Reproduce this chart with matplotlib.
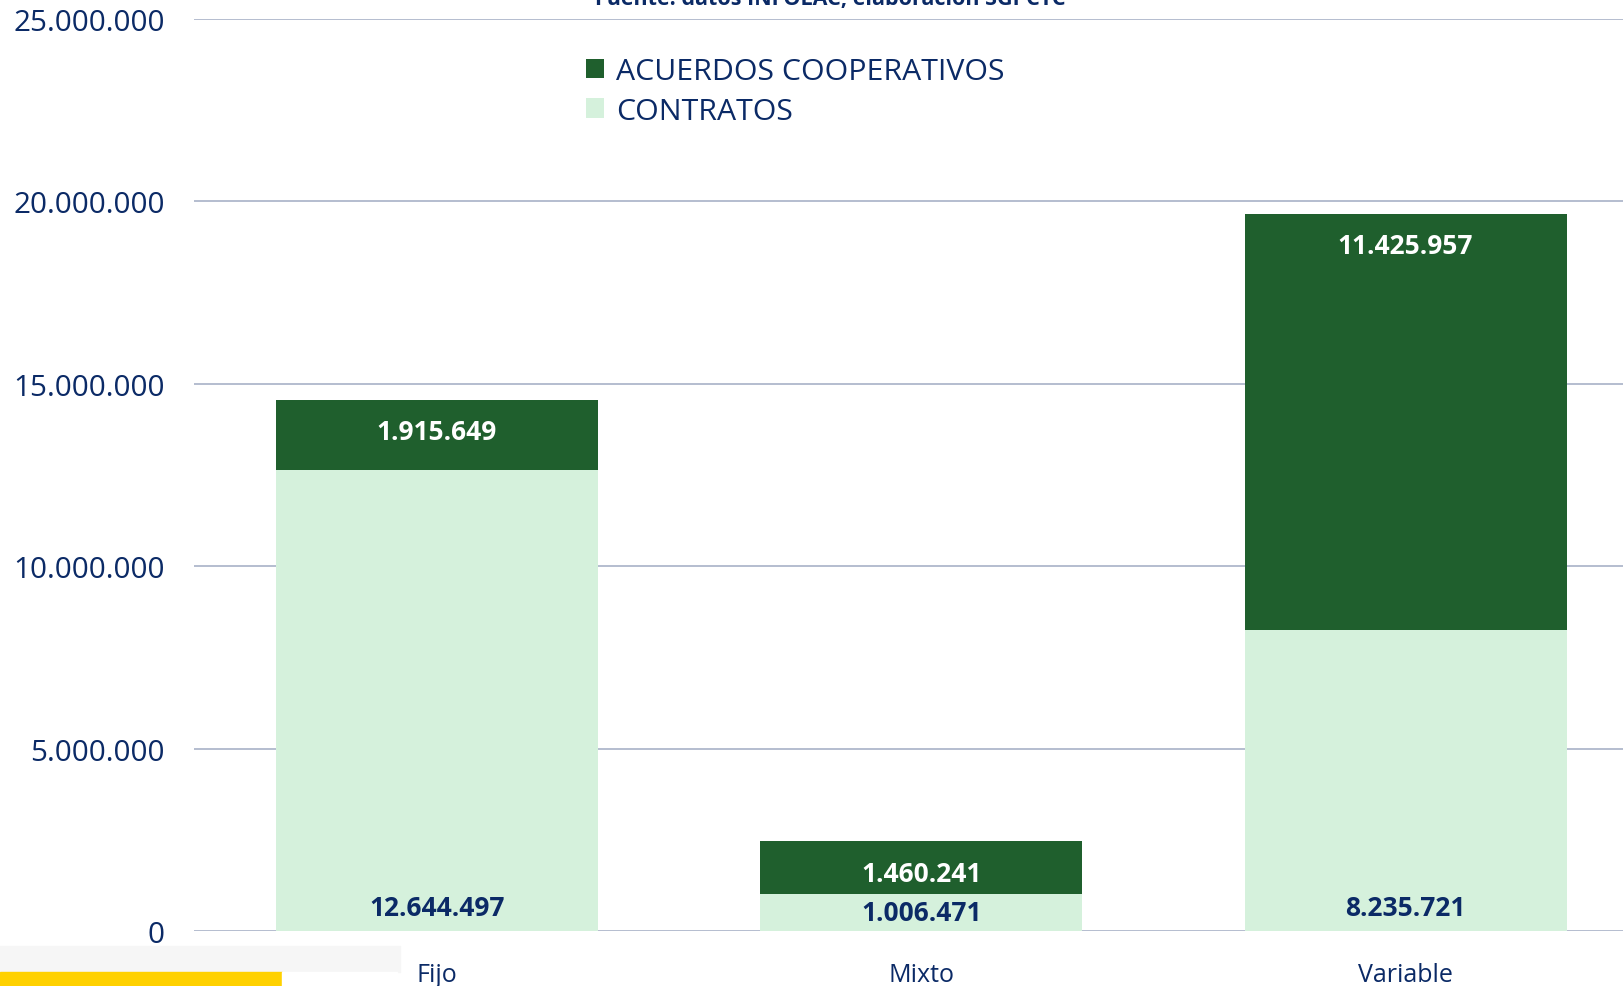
import matplotlib.pyplot as plt
import matplotlib.patches as mpatches
import numpy as np

categorias = ["Fijo", "Mixto", "Variable"]
contratos = [12644497, 1006471, 8235721]
acuerdos = [1915649, 1460241, 11425957]
etiquetas_contratos = ["12.644.497", "1.006.471", "8.235.721"]
etiquetas_acuerdos = ["1.915.649", "1.460.241", "11.425.957"]
yticks = [0, 5000000, 10000000, 15000000, 20000000, 25000000]
ytick_labels = ["0", "5.000.000", "10.000.000", "15.000.000", "20.000.000", "25.000.000"]

navy = "#0B2A66"
verde_osc = "#1F5F2D"
verde_cla = "#D5F1DC"
grid_col = "#AFB7CB"

plt.rcParams['font.family'] = ['Open Sans', 'DejaVu Sans']

fig = plt.figure(figsize=(16.24, 9.87), dpi=100)
ax = fig.add_axes([0.1195, 0.0557, 0.8805, 0.9243])

x = np.arange(len(categorias))
w = 0.665
ax.bar(x, contratos, width=w, color=verde_cla, label="CONTRATOS", zorder=2)
ax.bar(x, acuerdos, width=w, bottom=contratos, color=verde_osc,
       label="ACUERDOS COOPERATIVOS", zorder=2)

ax.set_ylim(0, 25000000)
ax.set_xlim(-0.5016, 2.451)
ax.set_yticks(yticks)
ax.set_yticklabels(ytick_labels)
ax.set_xticks(x)
ax.set_xticklabels(categorias)
ax.tick_params(axis='y', length=0, pad=21, labelsize=21.3, labelcolor=navy)
ax.tick_params(axis='x', length=0, pad=22, labelsize=18, labelcolor=navy)
ax.grid(axis='y', color=grid_col, linewidth=1.3, zorder=0)
for s in ax.spines.values():
    s.set_visible(False)

px = 72 / fig.dpi  # pixeles -> puntos

# etiquetas de datos
for i in range(len(categorias)):
    top = contratos[i] + acuerdos[i]
    ax.annotate(etiquetas_acuerdos[i], (x[i], top), xytext=(0, -32 * px),
                textcoords='offset points', ha='center', va='center',
                color='white', fontsize=19, fontweight='bold', zorder=3)
    # contratos: cerca de la base, o al centro si el tramo es corto
    seg_px = ax.transData.transform((0, contratos[i]))[1] - ax.transData.transform((0, 0))[1]
    off = min(24, seg_px / 2) * px
    ax.annotate(etiquetas_contratos[i], (x[i], 0), xytext=(0, off),
                textcoords='offset points', ha='center', va='center',
                color=navy, fontsize=19, fontweight='bold', zorder=3)

h, l = ax.get_legend_handles_labels()
leg = ax.legend(h[::-1], l[::-1], loc='upper left', bbox_to_anchor=(0.2655, 0.971),
                frameon=False, fontsize=21.8, handlelength=0.6, handleheight=0.6,
                handletextpad=0.4, labelspacing=0.34, borderaxespad=0)
for t in leg.get_texts():
    t.set_color(navy)

# texto de la fuente, cortado en el borde superior
fig.text(0.511, 1 - 5 / 987, "Fuente: datos INFOLAC, elaboración SGPCTC",
         ha='center', va='baseline', fontsize=15.5, fontweight='bold', color=navy)

# restos de la captura en la esquina inferior izquierda
fig.patches.append(mpatches.Rectangle((0, 0), 282 / 1624, 14 / 987, transform=fig.transFigure,
                                      color='#FFD100', zorder=5))
fig.patches.append(mpatches.Rectangle((282 / 1624, 0), 115 / 1624, 14 / 987, transform=fig.transFigure,
                                      color='white', zorder=5))
fig.patches.append(mpatches.Rectangle((0, 14 / 987), 400 / 1624, 26 / 987, transform=fig.transFigure,
                                      color='#F6F6F6', zorder=1))

fig.savefig("out.png", dpi=100)
